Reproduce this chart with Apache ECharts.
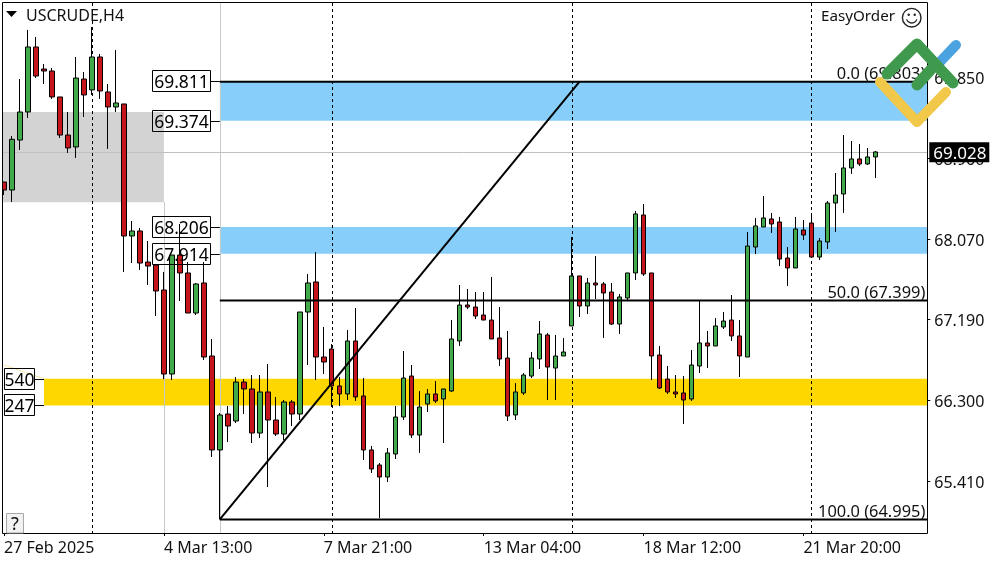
<!DOCTYPE html>
<html>
<head>
<meta charset="utf-8">
<style>html,body{margin:0;padding:0;background:#fff}#c{width:1000px;height:562px}</style>
<script src="https://cdn.jsdelivr.net/npm/echarts@6/dist/echarts.min.js"></script>
</head>
<body>
<div id="c"></div>
<script>
const opens = [68.701,68.613,69.162,69.470,70.184,69.942,69.920,69.635,69.217,69.086,69.832,69.712,70.074,69.690,69.525,69.558,68.108,68.163,67.822,67.789,
67.515,66.592,67.899,67.702,67.262,67.592,66.790,65.758,66.153,66.076,66.504,66.428,65.944,66.395,66.087,65.933,66.285,66.153,67.273,67.603,
66.779,66.867,66.461,66.373,66.955,66.351,65.758,65.593,65.461,65.714,66.120,66.570,65.922,66.263,66.373,66.318,66.406,66.955,67.350,67.328,
67.240,67.185,66.988,66.768,66.142,66.384,66.570,66.757,67.021,66.658,66.790,67.120,67.669,67.339,67.592,67.581,67.493,67.141,67.427,67.702,
68.339,67.702,66.801,66.537,66.395,66.384,66.318,66.680,66.933,66.900,67.109,67.185,67.010,66.779,67.987,68.207,68.295,68.262,67.866,67.757,
68.174,68.251,67.877,68.042,68.470,68.569,68.855,68.954,68.899,68.976];
const closes = [68.613,69.170,69.470,70.184,69.865,69.920,69.635,69.217,69.075,69.843,69.657,70.074,69.701,69.525,69.569,68.108,68.163,67.811,67.778,67.504,
66.592,67.899,67.702,67.262,67.581,66.779,65.758,66.142,66.021,66.504,66.428,65.944,66.395,66.087,65.933,66.285,66.153,67.273,67.592,66.779,
66.724,66.461,66.373,66.955,66.340,65.758,65.549,65.461,65.725,66.120,66.548,65.922,66.230,66.373,66.296,66.428,66.977,67.350,67.328,67.229,
67.185,66.977,66.757,66.131,66.395,66.581,66.768,67.032,66.669,66.790,66.834,67.669,67.339,67.592,67.570,67.482,67.141,67.438,67.702,68.350,
67.691,66.790,66.439,66.395,66.373,66.307,66.691,66.933,66.900,67.120,67.174,67.010,66.790,67.998,68.218,68.306,68.240,67.855,67.757,68.185,
68.119,67.877,68.053,68.470,68.558,68.855,68.954,68.899,68.976,69.031];
const lows = [68.558,68.481,69.053,69.404,69.843,69.777,69.613,69.184,69.020,68.965,69.415,69.657,69.613,69.064,69.470,67.713,67.811,67.735,67.570,67.229,
66.537,66.526,67.394,67.262,67.240,66.746,65.681,64.995,65.845,66.054,66.153,65.834,65.889,65.351,65.911,65.867,66.021,66.087,66.691,66.526,
66.592,66.230,66.241,66.307,66.296,65.648,65.505,65.011,65.406,65.659,66.087,65.889,65.725,66.175,66.274,65.834,66.395,66.900,67.306,67.196,
67.185,66.977,66.680,66.076,66.087,66.362,66.548,66.647,66.307,66.307,66.790,67.120,67.218,67.251,67.416,66.988,67.130,67.032,67.405,67.625,
67.669,66.526,66.428,66.373,66.329,66.043,66.296,66.603,66.658,66.900,67.087,66.955,66.559,66.779,67.910,68.207,68.141,67.778,67.559,67.757,
68.064,67.877,67.844,67.965,68.152,68.361,68.789,68.877,68.888,68.745];
const highs = [68.701,69.206,69.832,70.371,70.294,69.997,69.953,69.635,69.470,70.074,69.909,70.403,70.107,69.777,70.151,69.558,68.273,68.196,68.053,67.789,
67.713,67.899,68.240,67.822,67.592,67.822,66.977,66.164,66.241,66.559,66.537,66.581,66.581,66.702,66.340,66.307,66.307,67.273,67.691,67.932,
67.109,66.922,66.559,67.076,67.317,66.548,65.802,65.615,65.780,66.241,66.845,66.691,66.406,66.428,66.515,66.428,67.185,67.570,67.526,67.493,
67.493,67.658,67.328,67.065,66.493,66.603,66.834,67.174,67.043,67.021,66.988,68.097,67.669,67.647,67.888,67.603,67.592,67.471,67.702,68.383,
68.459,67.702,66.900,66.680,66.581,66.570,66.856,67.405,67.065,67.207,67.273,67.460,67.185,68.152,68.306,68.547,68.361,68.317,67.987,68.317,
68.284,68.361,68.086,68.492,68.800,69.217,69.151,69.118,69.075,69.042];

const xTickLabels = ['27 Feb 2025','4 Mar 13:00','7 Mar 21:00','13 Mar 04:00','18 Mar 12:00','21 Mar 20:00'];
const yTickValues = [69.850,68.960,68.070,67.190,66.300,65.410];
const slotCount = 116;
const labelEvery = 20;

const blueZones = [[69.811,69.374],[68.206,67.914]];
const blueStart = 27;
const yellowZone = [66.540,66.247];
const yellowStart = 5;
const grayBox = {from:0,to:20,top:69.47,bottom:68.48};
const dashedBars = [11,41,71,101];
const fibLevels = [[69.803,'0.0 (69.803)'],[67.399,'50.0 (67.399)'],[64.995,'100.0 (64.995)']];
const trend = [[27,64.995],[72,69.803]];
const faintLine = [[0,66.691],[5,66.540]];
const lastPrice = 69.028;
const lastPriceText = '69.028';
const blueLabels = [[69.811,'69.811'],[69.374,'69.374'],[68.206,'68.206'],[67.914,'67.914']];
const yellowLabels = [[66.540,'540'],[66.247,'247']];

const FONT = '"Noto Sans"';
const categories = Array.from({length:slotCount},(_,i)=> i%labelEvery===0 && xTickLabels[i/labelEvery] ? xTickLabels[i/labelEvery] : '');
const candleData = opens.map((o,i)=>[o,closes[i],lows[i],highs[i]]);

function rect(x,y,w,h,fill){return {type:'rect',shape:{x,y,width:w,height:h},style:{fill}};}
function seg(x1,y1,x2,y2,stroke,lineWidth,lineDash){return {type:'line',shape:{x1,y1,x2,y2},style:{stroke,lineWidth,lineDash:lineDash||null,fill:null}};}
function txt(x,y,text,size,fill,align){return {type:'text',style:{x,y,text,fill,font:size+'px '+FONT,align,textAlign:align,verticalAlign:'middle',textVerticalAlign:'middle'}};}

function renderBack(params,api){
  const cs = params.coordSys, L = cs.x, R = cs.x+cs.width, T = cs.y, B = cs.y+cs.height;
  const X = i=>api.coord([i,65])[0], Y = p=>api.coord([0,p])[1];
  const ch = [];
  ch.push(rect(L,Math.round(Y(grayBox.top)),X(grayBox.to)-L,Y(grayBox.bottom)-Y(grayBox.top),'#d3d3d3'));
  blueZones.forEach(z=>ch.push(rect(X(blueStart),Y(z[0]),R-X(blueStart),Y(z[1])-Y(z[0]),'#87cefa')));
  ch.push(rect(X(yellowStart),Y(yellowZone[0]),R-X(yellowStart),Y(yellowZone[1])-Y(yellowZone[0]),'#ffd700'));
  const gx1 = Math.round(X(grayBox.to))+.5, gx2 = Math.round(X(blueStart))+.5;
  ch.push(seg(gx1,Y(grayBox.bottom),gx1,B,'#c8c8c8',1));
  ch.push(seg(gx2,T,gx2,B,'#c8c8c8',1));
  const gy = Math.round(Y(lastPrice))+.5;
  ch.push(seg(L,gy,R,gy,'#c0c0c0',1));
  ch.push(seg(X(faintLine[0][0]),Y(faintLine[0][1]),X(faintLine[1][0]),Y(faintLine[1][1]),'#f3e6a4',1));
  dashedBars.forEach(i=>{const x=Math.round(X(i))+.5;ch.push(seg(x,T,x,B,'#000',1,[3,3]));});
  return {type:'group',children:ch};
}
function renderFront(params,api){
  const cs = params.coordSys, R = cs.x+cs.width;
  const X = i=>api.coord([i,65])[0], Y = p=>api.coord([0,p])[1];
  const ch = [];
  fibLevels.forEach(l=>{
    const y=Y(l[0]);
    ch.push(seg(X(blueStart),y,R,y,'#000',2));
    ch.push(txt(R-2,y-7,l[1],16.4,'#111','right'));
  });
  ch.push(seg(X(trend[0][0]),Y(trend[0][1]),X(trend[1][0]),Y(trend[1][1]),'#000',2));
  const box=(p,t,ax,w)=>{
    const y=Math.round(Y(p)),r=Math.round(ax-10);
    ch.push({type:'rect',shape:{x:r-w+.5,y:y-10.5,width:w,height:21},style:{fill:null,stroke:'#000',lineWidth:1}});
    ch.push(seg(r,y+.5,ax,y+.5,'#000',1));
    ch.push(txt(r-w/2+.5,y+2,t,17.5,'#000','center'));
  };
  blueLabels.forEach(b=>box(b[0],b[1],X(blueStart),58));
  yellowLabels.forEach(b=>box(b[0],b[1],X(yellowStart),30));
  const ly=Y(lastPrice);
  ch.push(rect(R+2,ly-10,60,20,'#000'));
  ch.push(txt(R+6,ly+1.5,lastPriceText,17,'#fff','left'));
  return {type:'group',children:ch};
}

const chart = echarts.init(document.getElementById('c'),null,{renderer:'canvas'});
chart.setOption({
  animation:false,
  backgroundColor:'#fff',
  grid:{left:-0.7,top:3,width:928,height:530,containLabel:false},
  xAxis:{type:'category',data:categories,boundaryGap:true,
    axisLine:{show:false},
    axisTick:{show:true,interval:labelEvery-1,alignWithLabel:true,length:3,lineStyle:{color:'#000'}},
    axisLabel:{interval:labelEvery-1,align:'left',margin:7,color:'#111',fontFamily:FONT,fontSize:16,hideOverlap:false},
    splitLine:{show:false}},
  yAxis:{type:'value',position:'right',min:64.846,max:70.667,scale:true,
    axisLine:{show:false},
    axisTick:{show:true,length:3,lineStyle:{color:'#000'},customValues:yTickValues},
    axisLabel:{margin:7,color:'#111',fontFamily:FONT,fontSize:16,verticalAlign:'top',lineHeight:4,customValues:yTickValues,formatter:v=>v.toFixed(3)},
    splitLine:{show:false}},
  series:[
    {type:'custom',z:1,silent:true,data:[[0]],renderItem:renderBack,clip:false},
    {type:'candlestick',z:3,silent:true,data:candleData,barWidth:5,clip:true,
      itemStyle:{color:'#43aa4b',color0:'#c4161c',borderColor:'#000',borderColor0:'#000',borderColorDoji:'#000',borderWidth:1}},
    {type:'custom',z:5,silent:true,data:[[0]],renderItem:renderFront,clip:false}
  ],
  graphic:[
    {type:'rect',z:100,shape:{x:0,y:0,width:2,height:562},style:{fill:'#fff'}},
    {type:'rect',z:101,shape:{x:2.5,y:2.5,width:925,height:531},style:{fill:null,stroke:'#000',lineWidth:1}},
    {type:'polygon',z:102,shape:{points:[[6,11],[17,11],[11.5,17]]},style:{fill:'#000'}},
    {type:'text',z:102,style:{x:26,y:16.5,text:'USCRUDE,H4',fill:'#111',font:'16px '+FONT,verticalAlign:'middle',textVerticalAlign:'middle'}},
    {type:'text',z:102,style:{x:895,y:17,text:'EasyOrder',fill:'#111',font:'15.2px '+FONT,align:'right',textAlign:'right',verticalAlign:'middle',textVerticalAlign:'middle'}},
    {type:'circle',z:102,shape:{cx:911.7,cy:17.7,r:9.3},style:{fill:null,stroke:'#222',lineWidth:1.4}},
    {type:'circle',z:102,shape:{cx:908.7,cy:14.7,r:1.2},style:{fill:'#222'}},
    {type:'circle',z:102,shape:{cx:914.7,cy:14.7,r:1.2},style:{fill:'#222'}},
    {type:'arc',z:102,shape:{cx:911.7,cy:17.5,r:5.5,startAngle:0.35,endAngle:Math.PI-0.35},style:{fill:null,stroke:'#222',lineWidth:1.3}},
    {type:'rect',z:102,shape:{x:6.5,y:513.5,width:17,height:19.5},style:{fill:'#f2f2f2',stroke:'#a8a8a8',lineWidth:1}},
    {type:'text',z:103,style:{x:15,y:524.5,text:'?',fill:'#111',font:'18px '+FONT,align:'center',textAlign:'center',verticalAlign:'middle',textVerticalAlign:'middle'}},
    {type:'polyline',z:104,shape:{points:[[937,65],[956,45]]},style:{fill:null,stroke:'#4aa3e0',lineWidth:10,lineCap:'round',lineJoin:'round'}},
    {type:'polyline',z:105,shape:{points:[[880,82],[917,122],[946,92]]},style:{fill:null,stroke:'#f2c84b',lineWidth:10,lineCap:'round',lineJoin:'round'}},
    {type:'polyline',z:106,shape:{points:[[887,74],[917,44],[953,83]]},style:{fill:null,stroke:'#3f9a4e',lineWidth:11,lineCap:'round',lineJoin:'round'}},
    {type:'polyline',z:106,shape:{points:[[917,85],[935,65]]},style:{fill:null,stroke:'#3f9a4e',lineWidth:11,lineCap:'round',lineJoin:'round'}}
  ]
});
</script>
</body>
</html>
